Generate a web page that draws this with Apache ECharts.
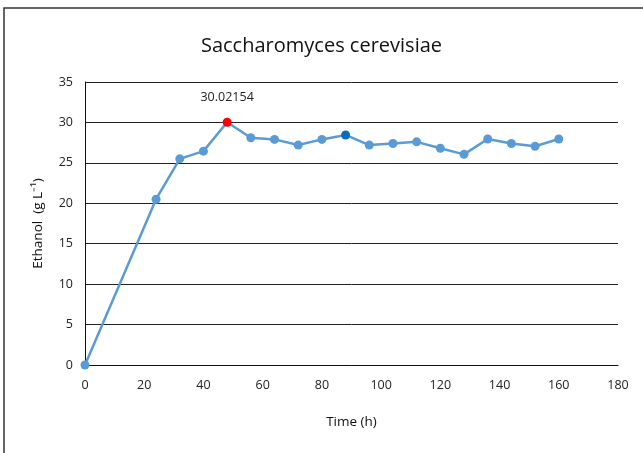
<!DOCTYPE html>
<html><head><meta charset="utf-8">
<script src="https://cdn.jsdelivr.net/npm/echarts@6/dist/echarts.min.js"></script>
<style>html,body{margin:0;padding:0;background:#fff}#c{width:643px;height:453px}</style>
</head><body><div id="c"></div>
<script>
var timeH = [0, 24, 32, 40, 48, 56, 64, 72, 80, 88, 96, 104, 112, 120, 128, 136, 144, 152, 160];
var ethanol = [0, 20.5, 25.5, 26.45, 30.02154, 28.1, 27.9, 27.2, 27.9, 28.45, 27.2, 27.4, 27.6, 26.8, 26.05, 27.95, 27.4, 27.05, 27.95];
var yTicks = [0, 5, 10, 15, 20, 25, 30, 35];
var xTicks = [0, 20, 40, 60, 80, 100, 120, 140, 160, 180];
var peakIndex = 4;
var darkIndex = 9;

var font = "'Open Sans', sans-serif";
var pts = timeH.map(function (t, i) {
  var p = { value: [t, ethanol[i]] };
  if (i === peakIndex) {
    p.itemStyle = { color: '#FF0000' };
    p.label = { show: true, position: 'top', distance: 14, formatter: String(ethanol[i]), fontSize: 12.5, color: '#222', fontFamily: font };
  }
  if (i === darkIndex) p.itemStyle = { color: '#0A6CB8' };
  return p;
});

var chart = echarts.init(document.getElementById('c'));
chart.setOption({
  animation: false,
  backgroundColor: '#fff',
  graphic: [{ type: 'rect', shape: { x: 4, y: 8, width: 660, height: 470 }, style: { fill: 'none', stroke: '#333', lineWidth: 1.5 }, silent: true }],
  title: { text: 'Saccharomyces cerevisiae', left: 'center', top: 31, textStyle: { fontFamily: font, fontSize: 20, fontWeight: 'normal', color: '#111' } },
  grid: { left: 85, right: 25, top: 82, bottom: 88 },
  xAxis: {
    type: 'value', min: xTicks[0], max: xTicks[xTicks.length - 1], interval: 20,
    name: 'Time (h)', nameLocation: 'middle', nameGap: 50,
    nameTextStyle: { fontFamily: font, fontSize: 13.5, color: '#111' },
    axisLine: { show: true, lineStyle: { color: '#111', width: 1 } },
    axisTick: { show: false },
    splitLine: { show: false },
    axisLabel: { fontFamily: font, fontSize: 12.5, color: '#222', margin: 14 }
  },
  yAxis: {
    type: 'value', min: yTicks[0], max: yTicks[yTicks.length - 1], interval: 5,
    name: 'Ethanol  (g L\u207B\u00B9)', nameLocation: 'middle', nameGap: 40, nameRotate: 90,
    nameTextStyle: { fontFamily: font, fontSize: 13.5, color: '#111' },
    axisLine: { show: true, lineStyle: { color: '#111', width: 1 } },
    axisTick: { show: false },
    splitLine: { show: true, lineStyle: { color: '#222', width: 1 } },
    axisLabel: { fontFamily: font, fontSize: 12.5, color: '#222', margin: 12 }
  },
  series: [{
    type: 'line', data: pts, symbol: 'circle', symbolSize: 9,
    lineStyle: { color: '#5B9BD5', width: 2.5 },
    itemStyle: { color: '#5B9BD5' }
  }]
});
</script></body></html>
